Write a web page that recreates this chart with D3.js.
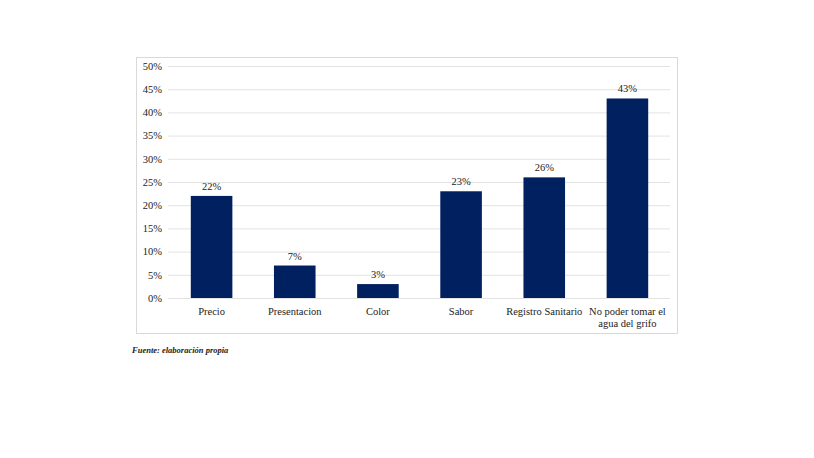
<!DOCTYPE html>
<html><head><meta charset="utf-8">
<script src="https://cdn.jsdelivr.net/npm/d3@7"></script>
<style>body{margin:0;background:#fff}svg{display:block}</style>
</head><body>
<script>
const categories = ["Precio","Presentacion","Color","Sabor","Registro Sanitario","No poder tomar el agua del grifo"];
const categoryLines = [["Precio"],["Presentacion"],["Color"],["Sabor"],["Registro Sanitario"],["No poder tomar el","agua del grifo"]];
const values = [22,7,3,23,26,43];
const yTicks = [0,5,10,15,20,25,30,35,40,45,50];
const source = "Fuente: elaboración propia";

const W=814,H=458;
const FONT="'Liberation Serif','Times New Roman',serif";
const svg=d3.select("body").append("svg").attr("width",W).attr("height",H);

svg.append("rect").attr("x",136.5).attr("y",57.5).attr("width",541).attr("height",276)
  .attr("fill","#fff").attr("stroke","#d9d9d9");

const x=d3.scaleBand().domain(categories).range([170,669]).paddingInner(0.5).paddingOuter(0.25);
const y=d3.scaleLinear().domain([0,50]).range([298,66]);

const yAxis=svg.append("g").attr("transform","translate(168,0)")
  .call(d3.axisLeft(y).tickValues(yTicks).tickSize(-502).tickFormat(d=>d+"%"));
yAxis.select(".domain").remove();
yAxis.attr("font-family",FONT).attr("font-size",10.5);
yAxis.selectAll(".tick line").attr("stroke","#e3e3e3");
yAxis.selectAll(".tick text").attr("x",-6).style("font-family",FONT).attr("fill","#222");

svg.selectAll("rect.bar").data(values).join("rect").attr("class","bar")
  .attr("x",(d,i)=>x(categories[i])).attr("width",x.bandwidth())
  .attr("y",d=>y(d)).attr("height",d=>y(0)-y(d)).attr("fill","#002060");

svg.selectAll("text.val").data(values).join("text").attr("class","val")
  .attr("x",(d,i)=>x(categories[i])+x.bandwidth()/2).attr("y",d=>y(d)-6)
  .attr("text-anchor","middle").style("font-family",FONT).attr("font-size",10.5).attr("fill","#222")
  .text(d=>d+"%");

const cl=svg.selectAll("text.cat").data(categoryLines).join("text").attr("class","cat")
  .attr("x",(d,i)=>x(categories[i])+x.bandwidth()/2).attr("y",315)
  .attr("text-anchor","middle").style("font-family",FONT).attr("font-size",10.5).attr("fill","#222");
cl.selectAll("tspan").data((d,i)=>d.map(s=>({s,i}))).join("tspan")
  .attr("x",d=>x(categories[d.i])+x.bandwidth()/2).attr("dy",(d,j)=>j?12:0).text(d=>d.s);

svg.append("text").attr("x",132).attr("y",353).style("font-family",FONT).attr("font-size",8.5)
  .attr("font-weight","bold").attr("font-style","italic").attr("fill","#222").text(source);
</script>
</body></html>
